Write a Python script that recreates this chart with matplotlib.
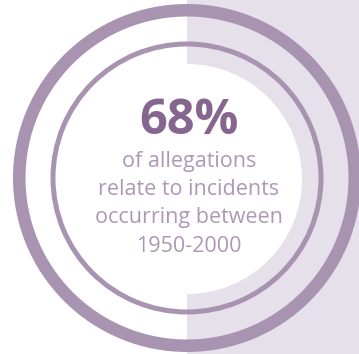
"""Headline statistic badge: concentric rings with a half-shaded panel."""
import matplotlib
matplotlib.use("Agg")
import matplotlib.pyplot as plt
from matplotlib.patches import Wedge, Rectangle

# figures shown on the badge
pct_value = 68
caption_lines = ["of allegations", "relate to incidents", "occurring between", "1950-2000"]

RING = "#a893b1"
PANEL = "#e6e0eb"
HEAD = "#85668f"
BODY = "#ad98b6"

W, H = 359, 354
fig = plt.figure(figsize=(W / 100, H / 100), dpi=100)
ax = fig.add_axes([0, 0, 1, 1])
ax.set_xlim(0, W); ax.set_ylim(H, 0); ax.axis("off")

cx, cy = 187, 178
# shaded right-hand panel with white half disc on top of it
ax.add_patch(Rectangle((cx, 0), W - cx, H, fc=PANEL, ec="none"))
ax.add_patch(Wedge((cx, cy + 1), 115, -90, 90, fc="white", ec="none"))
# outer thick ring + inner thin ring
ax.add_patch(Wedge((cx, cy), 174, 0, 360, width=12.5, fc=RING, ec="none"))
ax.add_patch(Wedge((cx, cy), 136.5, 0, 360, width=5, fc=RING, ec="none"))

ax.text(189, 122, f"{pct_value}%", ha="center", va="center", fontsize=35,
        fontweight="bold", color=HEAD, family=["Open Sans", "DejaVu Sans"])
for i, line in enumerate(caption_lines):
    ax.text(189, 161 + i * 28.5, line, ha="center", va="center", fontsize=15.5,
            fontweight="normal", color=BODY, family=["Open Sans", "DejaVu Sans"])

fig.savefig("out.png", dpi=100)
